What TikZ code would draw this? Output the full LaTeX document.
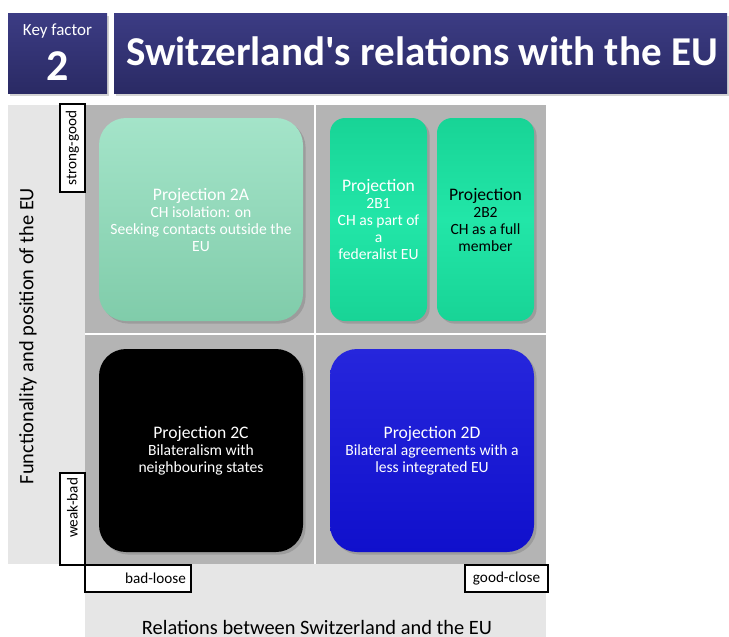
\documentclass[tikz,border=0pt]{standalone}
\usepackage{fontspec}
\setmainfont{Carlito}[Ligatures=TeXOff]
\usetikzlibrary{shadows}
\definecolor{headcolor}{RGB}{60, 60, 132}
\definecolor{headdark}{RGB}{42, 42, 100}
\definecolor{panelcolor}{RGB}{230, 230, 230}
\definecolor{cellcolor}{RGB}{180, 180, 180}
\definecolor{isolcolor}{RGB}{164, 228, 201}
\definecolor{isoldark}{RGB}{128, 204, 170}
\definecolor{membercolor}{RGB}{34, 230, 168}
\definecolor{memberdark}{RGB}{24, 212, 150}
\definecolor{bilatcolor}{RGB}{38, 38, 220}
\definecolor{bilatdark}{RGB}{16, 16, 204}

\begin{document}
\begin{tikzpicture}[
    x=0.5pt, y=-0.5pt,
    header/.style={top color=headcolor, bottom color=headdark, text=white, inner sep=0pt, drop shadow={opacity=0.35, shadow xshift=1pt, shadow yshift=-1.5pt}},
    panel/.style={fill=panelcolor, inner sep=0pt},
    cell/.style={fill=cellcolor, inner sep=0pt},
    projection/.style={rounded corners=13.5pt, align=center, text=white, inner sep=0pt, font=\fontsize{7.8}{8.5}\selectfont, drop shadow={opacity=0.45, shadow xshift=1.3pt, shadow yshift=-1.3pt}},
    scalebox/.style={draw, line width=1pt, fill=white, inner sep=0pt, font=\fontsize{7.6}{9}\selectfont},
    axistitle/.style={font=\fontsize{10.2}{12}\selectfont, inner sep=0pt},
]
    \useasboundingbox (0,0) rectangle (729,637);

    % Header
    \node[header, minimum width=49.5pt, minimum height=40pt] (keybox) at (57.5,53) {};
    \node[text=white, font=\fontsize{8.5}{10}\selectfont] (keylabel) at (57.5,31) {Key factor};
    \node[text=white, font=\fontsize{22}{24}\selectfont\bfseries] (keynum) at (57.5,66) {2};
    \node[header, minimum width=306.5pt, minimum height=40pt] (titlebox) at (420.5,53) {};
    \node[text=white, font=\fontsize{20.5}{24}\selectfont\bfseries] (title) at (422,51) {Switzerland's relations with the EU};

    % Panels and quadrants
    \node[panel, minimum width=38.5pt, minimum height=229.5pt] (leftpanel) at (46.5,334.5) {};
    \node[panel, minimum width=230.5pt, minimum height=37pt] (bottompanel) at (315.5,601) {};
    \node[cell, minimum width=114.5pt, minimum height=114pt] (celltl) at (199.5,219) {};
    \node[cell, minimum width=115pt, minimum height=114pt] (celltr) at (431,219) {};
    \node[cell, minimum width=114.5pt, minimum height=114.5pt] (cellbl) at (199.5,449.5) {};
    \node[cell, minimum width=115pt, minimum height=114.5pt] (cellbr) at (431,449.5) {};

    % Projections
    \node[projection, top color=isolcolor, bottom color=isoldark, minimum width=102pt, minimum height=101.5pt] (proj2a) at (201,219.5)
        {{\fontsize{8.8}{8.5}\selectfont Projection 2A}\\CH isolation: on\\Seeking contacts outside the\\EU};
    \node[projection, rounded corners=7.5pt, top color=memberdark, bottom color=memberdark, middle color=membercolor, minimum width=48.5pt, minimum height=101.5pt] (proj2b1) at (378.5,219.5)
        {{\fontsize{8.8}{8.5}\selectfont Projection}\\2B1\\CH as part of\\a\\federalist EU};
    \node[projection, rounded corners=7.5pt, text=black, top color=memberdark, bottom color=memberdark, middle color=membercolor, minimum width=48.5pt, minimum height=101.5pt] (proj2b2) at (485.5,219.5)
        {{\fontsize{8.8}{8.5}\selectfont Projection}\\2B2\\CH as a full\\member};
    \node[projection, fill=black, minimum width=102pt, minimum height=101.5pt] (proj2c) at (201,450.5)
        {{\fontsize{8.8}{8.5}\selectfont Projection 2C}\\Bilateralism with\\neighbouring states};
    \node[projection, top color=bilatcolor, bottom color=bilatdark, minimum width=102pt, minimum height=101.5pt] (proj2d) at (432,450.5)
        {{\fontsize{8.8}{8.5}\selectfont Projection 2D}\\Bilateral agreements with a\\less integrated EU};

    % Scale labels
    \node[scalebox, rotate=90, minimum width=44pt, minimum height=12.5pt] (stronggood) at (72.5,148) {strong-good};
    \node[scalebox, rotate=90, minimum width=46pt, minimum height=12.5pt, text width=41pt, align=right] (weakbad) at (72.5,519) {weak-bad};
    \node[scalebox, minimum width=53pt, minimum height=13.5pt, text width=48pt, align=right] (badloose) at (138,578.5) {bad-loose};
    \node[scalebox, minimum width=41.5pt, minimum height=13.5pt] (goodclose) at (506.5,578.5) {good-close};

    % Axis titles
    \node[axistitle, rotate=90] (yaxis) at (28,336) {Functionality and position of the EU};
    \node[axistitle] (xaxis) at (317,627) {Relations between Switzerland and the EU};

\end{tikzpicture}
\end{document}
